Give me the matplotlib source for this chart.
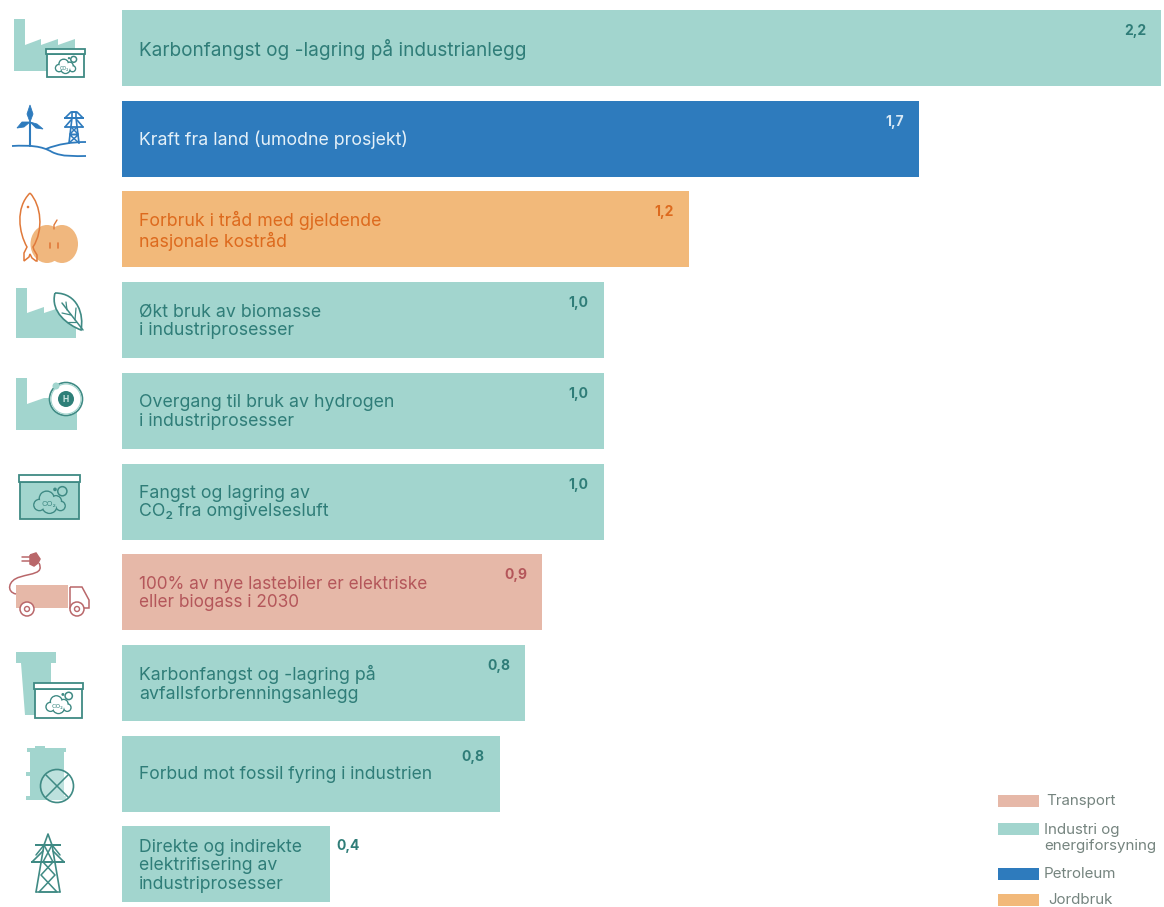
import matplotlib
matplotlib.use("Agg")
import matplotlib.pyplot as plt
from matplotlib.patches import Polygon, Rectangle, Circle, Ellipse, PathPatch
from matplotlib.path import Path

plt.rcParams['font.family'] = ['Inter', 'DejaVu Sans']

# ---------- data ----------
categories = [
    "Karbonfangst og -lagring på industrianlegg",
    "Kraft fra land (umodne prosjekt)",
    "Forbruk i tråd med gjeldende\nnasjonale kostråd",
    "Økt bruk av biomasse\ni industriprosesser",
    "Overgang til bruk av hydrogen\ni industriprosesser",
    "Fangst og lagring av\nCO₂ fra omgivelsesluft",
    "100% av nye lastebiler er elektriske\neller biogass i 2030",
    "Karbonfangst og -lagring på\navfallsforbrenningsanlegg",
    "Forbud mot fossil fyring i industrien",
    "Direkte og indirekte\nelektrifisering av\nindustriprosesser",
]
values = [2.2, 1.688, 1.2, 1.02, 1.02, 1.02, 0.89, 0.854, 0.80, 0.44]
value_labels = ["2,2", "1,7", "1,2", "1,0", "1,0", "1,0", "0,9", "0,8", "0,8", "0,4"]
sectors = ["Industri", "Petroleum", "Jordbruk", "Industri", "Industri", "Industri",
           "Transport", "Industri", "Industri", "Industri"]
legend_labels = ["Transport", "Industri og\nenergiforsyning", "Petroleum", "Jordbruk"]
legend_keys = ["Transport", "Industri", "Petroleum", "Jordbruk"]

bar_colors = {"Industri": "#a2d5ce", "Petroleum": "#2e7bbd",
              "Jordbruk": "#f2b97a", "Transport": "#e6b8a8"}
text_colors = {"Industri": "#2f7d78", "Petroleum": "#e4f0f8",
               "Jordbruk": "#dd6a1e", "Transport": "#b4565a"}
value_colors = {"Industri": "#2f7d78", "Petroleum": "#d8e8f4",
                "Jordbruk": "#dd6a1e", "Transport": "#b4565a"}
label_sizes = [13.7, 12.75, 12.75, 12.75, 12.75, 12.75, 12.4, 12.75, 12.6, 12.7]
TEAL = bar_colors["Industri"]
DTEAL = "#3f8a84"
BLUE = "#2e7bbd"
ORANGE = "#e0793a"
RED = "#b9676a"
W, H = 1164, 907

fig = plt.figure(figsize=(W / 100, H / 100), dpi=100, facecolor="white")

# ---------- bars ----------
ax = fig.add_axes([122 / W, 0, (1161 - 122) / W, 1])
ax.set_xlim(0, 2.2)
first, step = 48.0, 90.72
ax.set_ylim((H - first) / step, -first / step)
ax.axis("off")
ypos = list(range(len(values)))
ax.barh(ypos, values, height=76 / step,
        color=[bar_colors[s] for s in sectors], linewidth=0)

pad = 17 / 472
for i, (cat, v, lab, s, fs) in enumerate(zip(categories, values, value_labels, sectors, label_sizes)):
    ax.text(pad, i + 0.012, cat, va="center", ha="left", fontsize=fs,
            color=text_colors[s], linespacing=1.12)
    if i == len(values) - 1:
        ax.text(v + 7 / 472, i - 0.2, lab, ha="left", va="center", fontsize=10,
                color=value_colors[s], fontweight="bold")
    else:
        ax.text(v - 15 / 472, i - 0.187, lab, ha="right", va="center", fontsize=10,
                color=value_colors[s], fontweight="bold")

# ---------- overlay in pixel units (legend + icons) ----------
ov = fig.add_axes([0, 0, 1, 1], zorder=5)
ov.set_xlim(0, W)
ov.set_ylim(H, 0)
ov.axis("off")
ov.patch.set_alpha(0)

# legend
leg_y = [801, 829, 874, 900]
txt_y = [801, 838, 874, 900]
txt_x = [1046, 1044, 1044, 1048]
for k, lab, y, ty, tx in zip(legend_keys, legend_labels, leg_y, txt_y, txt_x):
    ov.add_patch(Rectangle((998, y - 6), 41, 12, fc=bar_colors[k], ec="none"))
    ov.text(tx, ty, lab, ha="left", va="center", fontsize=10.9,
            color="#75847f", linespacing=1.15)


def poly(pts, fc=TEAL):
    ov.add_patch(Polygon(pts, closed=True, fc=fc, ec="none"))


def curve(verts, codes=None, color=DTEAL, lw=1.2, fc="none"):
    if codes is None:
        codes = [Path.MOVETO] + [Path.LINETO] * (len(verts) - 1)
    ov.add_patch(PathPatch(Path(verts, codes), fc=fc, ec=color, lw=lw))


def line(xs, ys, color=DTEAL, lw=1.2):
    ov.plot(xs, ys, color=color, lw=lw, solid_capstyle="round")


def cloud(cx, cy, s, fill, co2=True):
    parts = [(-11, 3, 6), (-3, -4, 8), (7, -1, 6), (12, 4, 5), (0, 4, 8)]
    for dx, dy, r in parts:
        ov.add_patch(Circle((cx + dx * s, cy + dy * s), r * s, fc="none", ec=DTEAL, lw=1.2))
    for dx, dy, r in parts:
        ov.add_patch(Circle((cx + dx * s, cy + dy * s), r * s - 0.6, fc=fill, ec="none"))
    ov.add_patch(Circle((cx + 14 * s, cy - 12 * s), 5 * s, fc="none", ec=DTEAL, lw=1.1))
    ov.add_patch(Circle((cx + 6 * s, cy - 14 * s), 2 * s, fc=DTEAL, ec="none"))
    if co2:
        ov.text(cx - 1, cy + 2, "CO₂", fontsize=6 * s, ha="center", va="center", color=DTEAL)


def co2box(x0, y0, x1, y1, fill):
    hh = (y1 - y0) * 0.17
    ov.add_patch(Rectangle((x0 + 1, y0 + hh), x1 - x0 - 2, y1 - y0 - hh, fc=fill, ec=DTEAL, lw=1.3))
    ov.add_patch(Rectangle((x0, y0), x1 - x0, hh, fc="white", ec=DTEAL, lw=1.3))
    cloud((x0 + x1) / 2, (y0 + y1) / 2 + hh * 0.7, (y1 - y0) / 48, fill)


# 1 factory + box
poly([(14, 19), (25, 19), (25, 45), (41, 39), (41, 45), (58, 39), (58, 45), (75, 39), (75, 71), (14, 71)])
co2box(46, 49, 85, 77, "white")

# 2 wind + pylon
line([30, 30], [123, 146], BLUE, 1.5)
curve([(30, 122), (27, 114), (30, 105), (33, 114), (30, 122)], color=BLUE, fc=BLUE, lw=0.6)
curve([(30, 122), (24, 127), (17, 128), (22, 122), (30, 122)], color=BLUE, fc=BLUE, lw=0.6)
curve([(30, 122), (37, 124), (43, 129), (36, 128), (30, 122)], color=BLUE, fc=BLUE, lw=0.6)
C4 = Path.CURVE4
curve([(12, 146), (30, 145), (42, 146), (52, 152), (62, 157), (75, 156), (86, 156)],
      [Path.MOVETO, C4, C4, C4, C4, C4, C4], BLUE, 1.3)
curve([(46, 149), (58, 144), (72, 142), (86, 142)], [Path.MOVETO, C4, C4, C4], BLUE, 1.3)
# pylon
line([69, 72, 72, 76, 76, 79], [143, 118, 112, 112, 118, 143], BLUE, 1.2)
line([65, 83, 65], [118, 118, 118], BLUE, 1.3)
line([65, 71, 77, 83], [118, 112, 112, 118], BLUE, 1.2)
line([65, 83], [127, 127], BLUE, 1.3)
line([65, 71], [127, 120], BLUE, 1.2)
line([83, 77], [127, 120], BLUE, 1.2)
line([71, 78, 70, 79], [127, 134, 135, 143], BLUE, 1.1)
line([77, 70, 78, 69], [127, 134, 135, 143], BLUE, 1.1)

# 3 apple + fish
apple_c = "#f0b77e"
ov.add_patch(Ellipse((47, 244), 33, 38, fc=apple_c, ec="none"))
ov.add_patch(Ellipse((62, 244), 32, 38, fc=apple_c, ec="none"))
line([54, 54, 57], [229, 225, 220], ORANGE, 1)
line([50, 50], [243, 248], ORANGE, 1.2)
line([58, 58], [243, 248], ORANGE, 1.2)
curve([(30, 193), (15, 208), (19, 233), (27, 247), (24, 253), (24, 258), (24, 261), (29, 257),
       (30, 254), (32, 258), (36, 261), (37, 261), (37, 255), (34, 250), (33, 247), (44, 230),
       (41, 205), (30, 193)],
      [Path.MOVETO, C4, C4, C4, Path.LINETO, Path.LINETO, Path.LINETO, Path.LINETO, Path.LINETO,
       Path.LINETO, Path.LINETO, Path.LINETO, Path.LINETO, Path.LINETO, Path.LINETO, C4, C4, C4],
      ORANGE, 1.1)
ov.add_patch(Circle((28, 207), 1.3, fc=ORANGE, ec="none"))

# 4 factory + leaf
poly([(16, 288), (27, 288), (27, 313), (44, 307), (44, 313), (62, 307), (76, 313), (76, 338), (16, 338)])
curve([(55, 293), (78, 293), (84, 315), (81, 330), (68, 325), (50, 312), (55, 293)],
      [Path.MOVETO, C4, C4, C4, C4, C4, C4], DTEAL, 1.2, fc="white")
line([62, 83], [303, 330], DTEAL, 1.1)
line([67, 66], [310, 302], DTEAL, 0.9)
line([71, 62], [315, 313], DTEAL, 0.9)
line([75, 76], [320, 308], DTEAL, 0.9)
line([76, 68], [322, 322], DTEAL, 0.9)

# 5 factory + H
poly([(16, 378), (27, 378), (27, 404), (44, 398), (44, 430), (16, 430)])
poly([(44, 398), (62, 398), (77, 412), (77, 430), (44, 430)])
ov.add_patch(Circle((66, 399), 16.5, fc="white", ec=DTEAL, lw=1.2))
ov.add_patch(Circle((66, 399), 15, fc="white", ec=TEAL, lw=0.8))
ov.add_patch(Circle((56, 386), 3.5, fc=TEAL, ec="none"))
ov.add_patch(Circle((66, 399), 8, fc="#2e7f78", ec="none"))
ov.text(66, 399, "H", fontsize=6, fontweight="bold", ha="center", va="center", color="#cfe8e4")

# 6 box
co2box(19, 475, 80, 519, TEAL)

# 7 truck
poly([(16, 585), (68, 585), (68, 608), (16, 608)], bar_colors["Transport"])
curve([(70, 587), (82, 587), (89, 600), (89, 608), (70, 608), (70, 587)], color=RED, lw=1.1)
for cx in (27, 77):
    ov.add_patch(Circle((cx, 609), 7, fc="white", ec=RED, lw=1.1))
    ov.add_patch(Circle((cx, 609), 2.5, fc="white", ec=RED, lw=1.0))
curve([(16, 594), (6, 592), (8, 580), (20, 577), (32, 573), (44, 574), (39, 563)],
      [Path.MOVETO, C4, C4, C4, C4, C4, C4], RED, 1.1)
curve([(30, 555), (36, 553), (40, 559), (38, 563), (34, 566), (30, 564), (30, 555)], color=RED, lw=1.1, fc=RED)
line([22, 30], [557, 557], RED, 1.1)
line([22, 30], [561, 561], RED, 1.1)

# 8 bin + box
ov.add_patch(Rectangle((16, 652), 40, 11, fc=TEAL, ec="none"))
poly([(21, 663), (51, 663), (51, 715), (25, 715)], TEAL)
co2box(34, 683, 83, 718, "white")

# 9 barrel + cross
poly([(30, 750), (64, 750), (64, 800), (30, 800)])
ov.add_patch(Rectangle((27, 748), 39, 4, fc=TEAL, ec="none"))
ov.add_patch(Rectangle((35, 746), 10, 4, fc=TEAL, ec="none"))
ov.add_patch(Rectangle((26, 772), 6, 4, fc=TEAL, ec="none"))
ov.add_patch(Rectangle((26, 796), 40, 4, fc=TEAL, ec="none"))
ov.add_patch(Circle((57, 786), 16.5, fc=(0.95, 0.98, 0.98, 0.35), ec=DTEAL, lw=1.2))
line([46, 68], [775, 797], DTEAL, 1.1)
line([68, 46], [775, 797], DTEAL, 1.1)

# 10 pylon
P = DTEAL
line([36, 44, 48, 52, 60], [892, 845, 834, 845, 892], P, 1.2)
line([32, 64, 32], [862, 862, 862], P, 1.2)
line([32, 43], [862, 851], P, 1.2)
line([64, 53], [862, 851], P, 1.2)
line([36, 60, 36], [845, 845, 845], P, 1.2)
line([36, 44], [855, 845], P, 1.1)
line([60, 52], [855, 845], P, 1.1)
line([44, 53, 41, 57, 36], [845, 862, 875, 892, 892], P, 1.1)
line([52, 43, 55, 39, 60], [845, 862, 875, 892, 892], P, 1.1)

fig.savefig("out.png", dpi=100, facecolor="white")
